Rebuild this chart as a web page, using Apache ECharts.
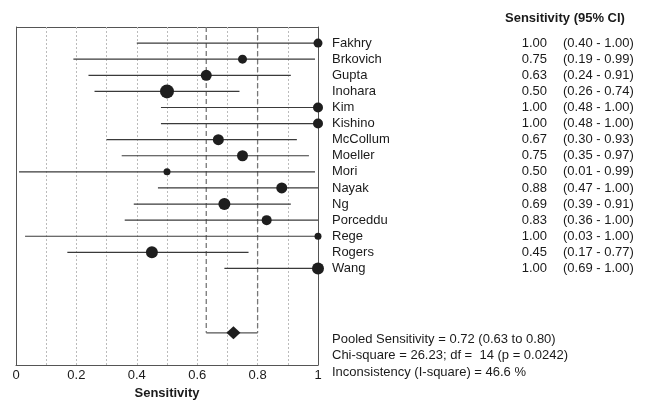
<!DOCTYPE html>
<html><head><meta charset="utf-8">
<script src="https://cdn.jsdelivr.net/npm/echarts@6/dist/echarts.min.js"></script>
<style>html,body{margin:0;padding:0;background:#fff}#c{width:659px;height:401px}</style>
</head><body><div id="c"></div>
<script>
var studies = ['Fakhry','Brkovich','Gupta','Inohara','Kim','Kishino','McCollum','Moeller','Mori','Nayak','Ng','Porceddu','Rege','Rogers','Wang'];
var sens = [1.00,0.75,0.63,0.50,1.00,1.00,0.67,0.75,0.50,0.88,0.69,0.83,1.00,0.45,1.00];
var ciLow = [0.40,0.19,0.24,0.26,0.48,0.48,0.30,0.35,0.01,0.47,0.39,0.36,0.03,0.17,0.69];
var ciHigh = [1.00,0.99,0.91,0.74,1.00,1.00,0.93,0.97,0.99,1.00,0.91,1.00,1.00,0.77,1.00];
var weight = [9,9,11,14,10,10,11,11,7,11,12,10,7,12,12];
var pooled = {est:0.72, low:0.63, high:0.80};
var xTicks = [0,0.2,0.4,0.6,0.8,1];
var statsLines = ['Pooled Sensitivity = 0.72 (0.63 to 0.80)','Chi-square = 26.23; df =  14 (p = 0.0242)','Inconsistency (I-square) = 46.6 %'];
var pooledRow = 19;

var FONT = 'Liberation Sans, Arial, sans-serif';
function idx(v){ var r=Math.round(v); return (Math.abs(v-r)<1e-6 && r>=1 && r<=studies.length) ? r-1 : -1; }
function rowName(v){ var i=idx(v); return i>=0?studies[i]:''; }
function rowVal(v){ var i=idx(v); return i>=0?sens[i].toFixed(2):''; }
function rowCI(v){ var i=idx(v); return i>=0?'('+ciLow[i].toFixed(2)+' - '+ciHigh[i].toFixed(2)+')':''; }

var ciData = studies.map(function(s,i){return [ciLow[i],ciHigh[i],i+1];});
var dotData = studies.map(function(s,i){return {value:[sens[i],i+1],symbolSize:weight[i]};});

var chart = echarts.init(document.getElementById('c'));
var yBase = {type:'value',min:0,max:21,interval:1,inverse:true,splitLine:{show:false},axisTick:{show:false}};
chart.setOption({
  animation:false,
  grid:{left:16,right:341,top:27,bottom:36,show:false,containLabel:false,outerBoundsMode:'none'},
  xAxis:{type:'value',min:0,max:1,interval:0.1,
    axisLine:{show:true,onZero:false,lineStyle:{color:'#555',width:1}},
    axisTick:{show:false},
    splitLine:{show:true,lineStyle:{color:'#bbb',type:[2,2],width:1}},
    axisLabel:{color:'#1a1a1a',fontSize:13,fontFamily:FONT,margin:4,
      formatter:function(v){ for(var k=0;k<xTicks.length;k++){ if(Math.abs(v-xTicks[k])<1e-6) return String(xTicks[k]); } return ''; }},
    name:'Sensitivity',nameLocation:'middle',nameGap:19,
    nameTextStyle:{color:'#1a1a1a',fontSize:13,fontWeight:'bold',fontFamily:FONT}
  },
  yAxis:[
    Object.assign({},yBase,{position:'left',axisLine:{show:true,onZero:false,lineStyle:{color:'#555'}},axisLabel:{show:false}}),
    Object.assign({},yBase,{position:'right',axisLine:{show:true,onZero:false,lineStyle:{color:'#555'}},
      axisLabel:{show:true,formatter:rowName,margin:14,color:'#1a1a1a',fontSize:13,fontFamily:FONT,align:'left'}}),
    Object.assign({},yBase,{position:'right',axisLine:{show:false},
      axisLabel:{show:true,formatter:rowVal,margin:229,color:'#1a1a1a',fontSize:13,fontFamily:FONT,align:'right'}}),
    Object.assign({},yBase,{position:'right',axisLine:{show:false},
      axisLabel:{show:true,formatter:rowCI,margin:245,color:'#1a1a1a',fontSize:13,fontFamily:FONT,align:'left'}})
  ],
  graphic:[
    {type:'line',shape:{x1:16,y1:27.5,x2:318,y2:27.5},style:{stroke:'#555',lineWidth:1}},
    {type:'text',left:505,top:12,style:{text:'Sensitivity (95% CI)',font:'bold 13px '+FONT,fill:'#1a1a1a'}},
    {type:'text',left:332,top:333,style:{text:statsLines[0],font:'13px '+FONT,fill:'#1a1a1a'}},
    {type:'text',left:332,top:349,style:{text:statsLines[1],font:'13px '+FONT,fill:'#1a1a1a'}},
    {type:'text',left:332,top:366,style:{text:statsLines[2],font:'13px '+FONT,fill:'#1a1a1a'}}
  ],
  series:[
    {type:'custom',data:[[pooled.low,pooled.high,pooledRow]],silent:true,
      renderItem:function(params,api){
        var a=api.coord([api.value(0),api.value(2)]), b=api.coord([api.value(1),api.value(2)]);
        var top=api.coord([api.value(0),0]);
        return {type:'group',children:[
          {type:'line',shape:{x1:a[0],y1:top[1],x2:a[0],y2:a[1]},style:{stroke:'#777',lineWidth:1.3,lineDash:[5,3]}},
          {type:'line',shape:{x1:b[0],y1:top[1],x2:b[0],y2:b[1]},style:{stroke:'#777',lineWidth:1.3,lineDash:[5,3]}},
          {type:'line',shape:{x1:a[0],y1:a[1],x2:b[0],y2:b[1]},style:{stroke:'#555',lineWidth:1.2}}
        ]};
      }},
    {type:'custom',data:ciData,silent:true,
      renderItem:function(params,api){
        var a=api.coord([api.value(0),api.value(2)]), b=api.coord([api.value(1),api.value(2)]);
        return {type:'line',shape:{x1:a[0],y1:a[1],x2:b[0],y2:b[1]},style:{stroke:'#3a3a3a',lineWidth:1.2}};
      }},
    {type:'scatter',data:dotData,symbol:'circle',itemStyle:{color:'#1e1e1e',opacity:1},z:5},
    {type:'scatter',data:[[pooled.est,pooledRow]],symbol:'diamond',symbolSize:[14,13],itemStyle:{color:'#1e1e1e',opacity:1},z:5}
  ]
});
</script></body></html>
